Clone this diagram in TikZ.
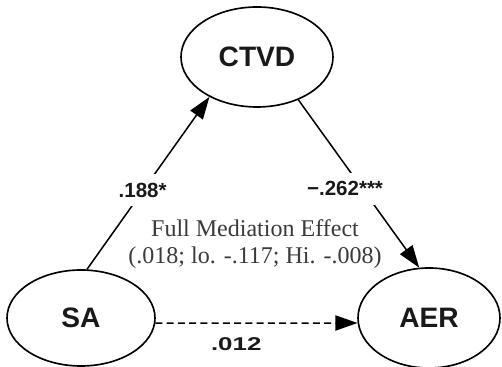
\documentclass[tikz,border=0pt]{standalone}
\usepackage{fontspec}
\usepackage{graphicx}
\setmainfont{Liberation Serif}
\setsansfont{Liberation Sans}
\usetikzlibrary{shapes.geometric,arrows.meta}
\definecolor{inkgray}{HTML}{3A3A3A}
\tikzset{ % common looks of the model
	var/.style={ellipse, draw, line width=1.4pt, inner sep=0pt,
		text=black!90, font=\sffamily\bfseries\fontsize{24}{28}\selectfont},
	coef/.style={text=black!90, font=\sffamily\bfseries\fontsize{17.5}{20}\selectfont},
	cut/.style={coef, fill=white, inner xsep=2pt, inner ysep=7.6pt},
	link/.style={line width=1.3pt, -{Triangle[length=19pt,width=13pt]}}
}
\begin{document}
\begin{tikzpicture}
		\useasboundingbox (0,0) rectangle (15.06,11.01);
		% Draw variables
		\node[var, minimum width=4.56cm, minimum height=3cm] (ctvd) at (7.71,9.3) {CTVD};
		\node[var, minimum width=4.44cm, minimum height=2.88cm] (sa) at (2.43,1.47) {SA};
		\node[var, minimum width=4.26cm, minimum height=3cm] (aer) at (12.87,1.47) {AER};
		% Draw paths with coefficients
		\draw[link] (sa.83) -- (ctvd.220) node[cut, pos=0.46, xshift=-0.02cm] (a) {.188*};
		\draw[link] (ctvd.-46) -- (aer.101) node[cut, pos=0.53, xshift=-0.52cm] (b) {−.262***};
		\draw[link, dash pattern=on 6pt off 3.6pt] (sa.-4) -- (aer.184)
		node[coef, font=\sffamily\bfseries\fontsize{15.8}{18}\selectfont, inner sep=0pt, pos=0.40, below=11.5pt] (c) {\scalebox{1.4}[1]{.012}};
		% Mediation text
		\node[text=inkgray, align=center, font=\fontsize{20.5}{23}\selectfont] (effect) at (7.65,3.68)
		{Full Mediation Effect\\(.018; lo. -.117; Hi. -.008)};
\end{tikzpicture}
\end{document}
